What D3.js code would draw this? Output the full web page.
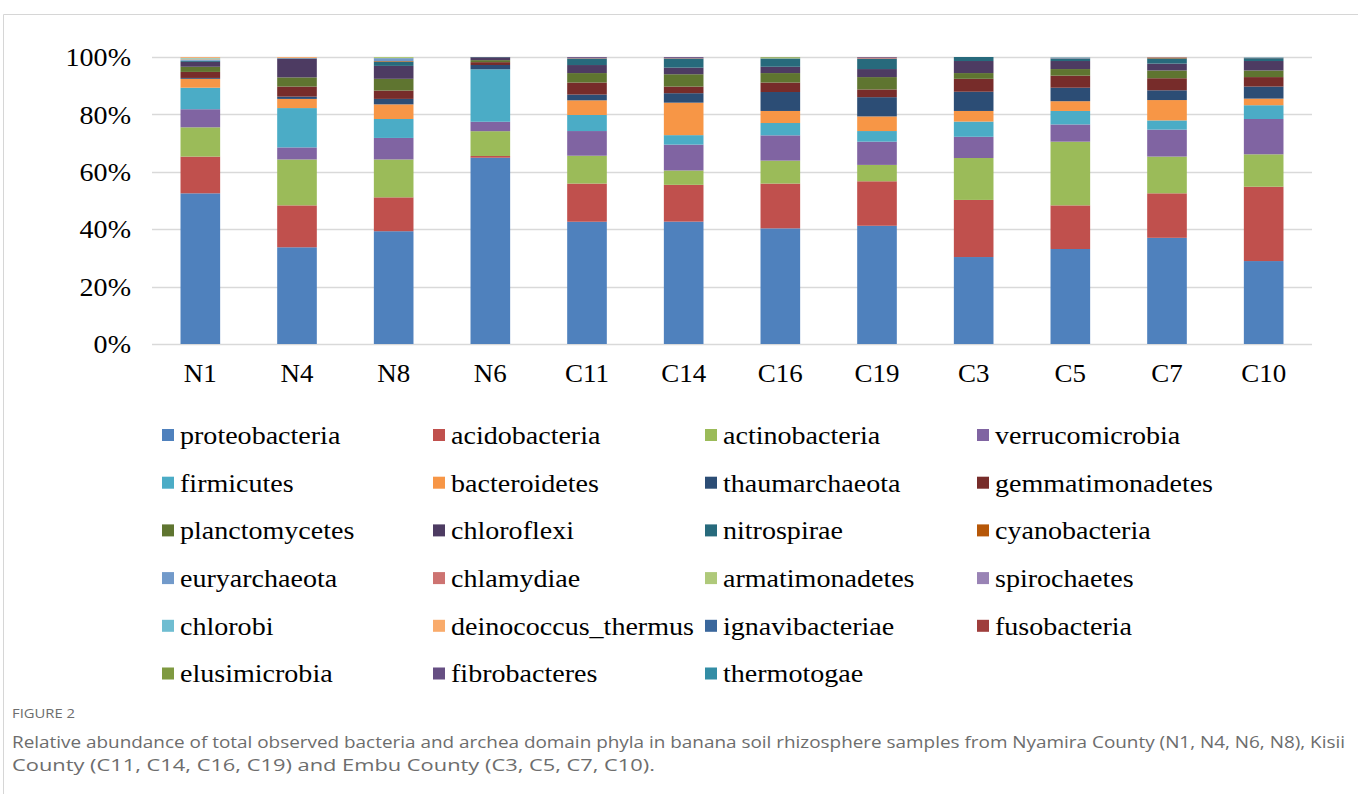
<!DOCTYPE html>
<html><head><meta charset="utf-8">
<script src="https://cdn.jsdelivr.net/npm/d3@7"></script>
<style>
html,body{margin:0;padding:0;background:#fff;}
svg{display:block;}
</style></head>
<body>
<svg id="chart" width="1358" height="794"></svg>
<script>
// ---------- data ----------
const samples = ["N1","N4","N8","N6","C11","C14","C16","C19","C3","C5","C7","C10"];
const yTicks = [0, 0.2, 0.4, 0.6, 0.8, 1.0];
const yTickLabels = ["0%","20%","40%","60%","80%","100%"];

const phyla = ["proteobacteria","acidobacteria","actinobacteria","verrucomicrobia","firmicutes","bacteroidetes","thaumarchaeota","gemmatimonadetes","planctomycetes","chloroflexi","nitrospirae","cyanobacteria","euryarchaeota","chlamydiae","armatimonadetes","spirochaetes","chlorobi","deinococcus_thermus","ignavibacteriae","fusobacteria","elusimicrobia","fibrobacteres","thermotogae"];
const phylaColors = ["#4F81BD","#C0504D","#9BBB59","#8064A2","#4BACC6","#F79646","#2C4D75","#772C2A","#5F7530","#4D3B62","#276A7C","#B65708","#729ACA","#CD7371","#AFC97A","#9983B5","#6FBDD1","#F9AB6B","#3A679C","#9F3E3C","#7F9A41","#664F83","#338DA5"];

//                        N1    N4    N8    N6    C11   C14   C16   C19   C3    C5    C7    C10
const proteobacteria   = [52.5, 33.7, 39.3, 65.3, 42.6, 42.6, 40.3, 41.2, 30.3, 33.1, 37.0, 28.9];
const acidobacteria    = [12.8, 14.6, 11.8,  0.6, 13.3, 12.8, 15.6, 15.5, 19.9, 15.2, 15.5, 25.9];
const actinobacteria   = [10.2, 16.0, 13.2,  8.7,  9.7,  5.0,  8.0,  5.7, 14.6, 22.2, 12.8, 11.3];
const verrucomicrobia  = [ 6.3,  4.2,  7.5,  3.3,  8.6,  9.0,  8.8,  8.1,  7.4,  6.0,  9.4, 12.3];
const firmicutes       = [ 7.5, 13.7,  6.6, 18.4,  5.6,  3.3,  4.3,  3.7,  5.3,  4.7,  3.2,  4.8];
const bacteroidetes    = [ 3.1,  3.2,  5.1,  0.0,  5.1, 11.3,  4.2,  5.1,  3.7,  3.4,  7.1,  2.3];
const thaumarchaeota   = [ 0.3,  0.8,  1.9,  1.5,  2.0,  3.3,  6.6,  6.7,  6.7,  4.7,  3.4,  4.2];
const gemmatimonadetes = [ 2.1,  3.5,  2.9,  1.0,  4.2,  2.3,  3.3,  2.7,  4.5,  4.2,  4.2,  3.3];
const planctomycetes   = [ 1.8,  3.2,  4.1,  0.7,  3.3,  4.3,  3.3,  4.3,  2.0,  2.3,  2.7,  2.3];
const chloroflexi      = [ 1.7,  6.4,  4.5,  1.0,  2.8,  2.3,  2.2,  2.8,  4.2,  2.8,  2.4,  3.3];
const nitrospirae      = [ 0.4,  0.2,  1.5,  0.1,  2.3,  3.2,  2.9,  3.6,  1.4,  0.9,  1.8,  1.0];
const cyanobacteria    = [ 0.0,  0.0,  0.2,  0.0,  0.0,  0.0,  0.0,  0.0,  0.0,  0.0,  0.3,  0.0];
const euryarchaeota    = [ 0.4,  0.1,  1.0,  0.0,  0.0,  0.0,  0.0,  0.0,  0.0,  0.1,  0.1,  0.0];
const chlamydiae       = [ 0.1,  0.1,  0.0,  0.0,  0.2,  0.2,  0.0,  0.2,  0.0,  0.2,  0.1,  0.2];
const armatimonadetes  = [ 0.3,  0.0,  0.4,  0.0,  0.0,  0.0,  0.3,  0.0,  0.0,  0.0,  0.0,  0.0];
const spirochaetes     = [ 0.0,  0.0,  0.0,  0.0,  0.0,  0.0,  0.0,  0.0,  0.0,  0.0,  0.0,  0.0];
const chlorobi         = [ 0.2,  0.0,  0.0,  0.0,  0.0,  0.0,  0.0,  0.0,  0.0,  0.2,  0.0,  0.2];
const deinococcus_thermus = [0.3, 0.3, 0.0,  0.0,  0.0,  0.0,  0.0,  0.0,  0.0,  0.0,  0.0,  0.0];
const ignavibacteriae  = [ 0.0,  0.0,  0.0,  0.0,  0.0,  0.0,  0.0,  0.0,  0.0,  0.0,  0.0,  0.0];
const fusobacteria     = [ 0.0,  0.0,  0.0,  0.0,  0.0,  0.0,  0.0,  0.2,  0.0,  0.0,  0.0,  0.0];
const elusimicrobia    = [ 0.0,  0.0,  0.0,  0.0,  0.0,  0.0,  0.2,  0.0,  0.0,  0.0,  0.0,  0.0];
const fibrobacteres    = [ 0.0,  0.0,  0.0,  0.0,  0.3,  0.3,  0.0,  0.2,  0.0,  0.0,  0.0,  0.0];
const thermotogae      = [ 0.0,  0.0,  0.0,  0.0,  0.0,  0.0,  0.0,  0.0,  0.0,  0.0,  0.0,  0.0];

const seriesValues = [proteobacteria,acidobacteria,actinobacteria,verrucomicrobia,firmicutes,bacteroidetes,thaumarchaeota,gemmatimonadetes,planctomycetes,chloroflexi,nitrospirae,cyanobacteria,euryarchaeota,chlamydiae,armatimonadetes,spirochaetes,chlorobi,deinococcus_thermus,ignavibacteriae,fusobacteria,elusimicrobia,fibrobacteres,thermotogae];

const captionTitle = "FIGURE 2";
const captionLines = [
  "Relative abundance of total observed bacteria and archea domain phyla in banana soil rhizosphere samples from Nyamira County (N1, N4, N6, N8), Kisii",
  "County (C11, C14, C16, C19) and Embu County (C3, C5, C7, C10)."
];
const captionWidths = [1333, 643];

// ---------- build table ----------
const table = samples.map((s, i) => {
  const row = {sample: s};
  let total = 0;
  phyla.forEach((p, k) => total += seriesValues[k][i]);
  phyla.forEach((p, k) => row[p] = seriesValues[k][i] / total);
  return row;
});

const svg = d3.select("#chart");
const serif = "'Liberation Serif','Times New Roman',serif";
const stretch = "scale(1.1,1)";

// frame
svg.append("path").attr("d", "M3.5,794 L3.5,14.5 L1358,14.5")
  .attr("fill","none").attr("stroke","#d6d6d6").attr("stroke-width",1);

const x = d3.scaleBand().domain(samples).range([152, 1312]).paddingInner(0.59).paddingOuter(0.295);
const y = d3.scaleLinear().domain([0, 1]).range([344, 57]);

// grid
svg.append("g").selectAll("line").data(yTicks).join("line")
  .attr("x1", 152).attr("x2", 1312)
  .attr("y1", d => Math.round(y(d)) + 0.5).attr("y2", d => Math.round(y(d)) + 0.5)
  .attr("stroke", "#d9d9d9").attr("stroke-width", 1.3);

// y axis labels
const yAxis = d3.axisLeft(y).tickValues(yTicks).tickFormat((d, i) => yTickLabels[i]).tickSize(0).tickPadding(0);
const gy = svg.append("g").attr("transform", "translate(131,0)").call(yAxis);
gy.select(".domain").remove();
gy.selectAll("text").attr("font-family", serif).attr("font-size", 25.5).attr("fill", "#000")
  .attr("dy", "0.34em").attr("transform", stretch);

// x axis labels
const xAxis = d3.axisBottom(x).tickSize(0).tickPadding(0);
const gx = svg.append("g").attr("transform", "translate(0,365)").call(xAxis);
gx.select(".domain").remove();
gx.selectAll("text").attr("font-family", serif).attr("font-size", 24.5).attr("fill", "#000")
  .attr("dy", "0.71em").attr("transform", stretch);

// stacked bars
const stack = d3.stack().keys(phyla);
const stacked = stack(table);
const color = d3.scaleOrdinal().domain(phyla).range(phylaColors);

svg.append("g").selectAll("g").data(stacked).join("g")
  .attr("fill", d => color(d.key))
  .selectAll("rect").data(d => d).join("rect")
  .attr("x", d => x(d.data.sample))
  .attr("width", x.bandwidth())
  .attr("y", d => y(d[1]))
  .attr("height", d => Math.max(0, y(d[0]) - y(d[1])));

// legend
const legCols = [162, 433, 705, 977];
const legRow0 = 435, legRowStep = 47.7;
const leg = svg.append("g").selectAll("g").data(phyla).join("g")
  .attr("transform", (d, i) => `translate(${legCols[i % 4]},${legRow0 + Math.floor(i / 4) * legRowStep})`);
leg.append("rect").attr("x", 0).attr("y", -6).attr("width", 12).attr("height", 12).attr("fill", d => color(d));
leg.append("text").attr("x", 0).attr("y", 0).attr("dy", "0.35em")
  .attr("transform", "translate(18,0) " + stretch)
  .attr("font-family", serif).attr("font-size", 25.5).attr("fill", "#000").text(d => d);

// caption
const sans = "'Open Sans','Noto Sans',sans-serif";
svg.append("text").attr("x", 12).attr("y", 718).attr("font-family", sans).attr("font-size", 13.5)
  .attr("textLength", 63).attr("lengthAdjust", "spacingAndGlyphs")
  .attr("fill", "#6d6d6d").text(captionTitle);
svg.append("g").selectAll("text").data(captionLines).join("text")
  .attr("x", 12).attr("y", (d, i) => 748 + i * 23)
  .attr("textLength", (d, i) => captionWidths[i]).attr("lengthAdjust", "spacingAndGlyphs")
  .attr("font-family", sans).attr("font-size", 17).attr("fill", "#6d6d6d").text(d => d);
</script>
</body></html>
